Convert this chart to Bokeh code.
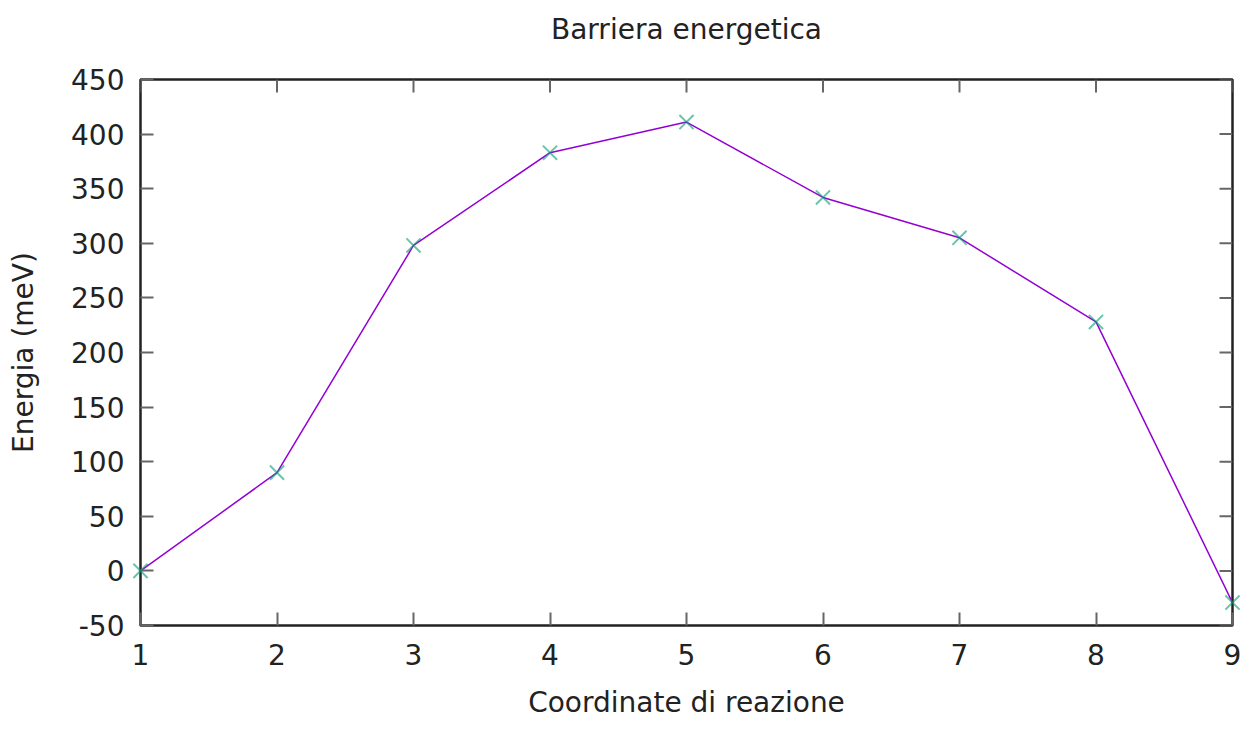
import math
from bokeh.plotting import figure
from bokeh.models import FixedTicker, Range1d, LinearAxis
from bokeh.embed import file_html
from bokeh.resources import INLINE

coord = [1, 2, 3, 4, 5, 6, 7, 8, 9]
energia = [0, 90, 298, 383, 411, 342, 305, 228, -29]
y_ticks = [-50, 0, 50, 100, 150, 200, 250, 300, 350, 400, 450]
x_ticks = [1, 2, 3, 4, 5, 6, 7, 8, 9]
title_text = "Barriera energetica"

FONT = "DejaVu Sans"
FS = "28px"
TXT = "#222222"
TICK = "#666666"

p = figure(width=1244, height=721, output_backend="svg", toolbar_location=None,
           x_range=Range1d(1, 9), y_range=Range1d(-50, 450),
           min_border_left=140, min_border_right=12, min_border_top=79, min_border_bottom=94)
p.title = None

p.xgrid.visible = False
p.ygrid.visible = False
p.outline_line_color = "#222222"
p.outline_line_width = 2.5
p.outline_line_alpha = 1.0

for ax in (p.xaxis[0], p.yaxis[0]):
    ax.axis_line_color = None
    ax.major_tick_in = 13
    ax.major_tick_out = 0
    ax.minor_tick_line_color = None
    ax.major_tick_line_color = TICK
    ax.major_tick_line_width = 2
    ax.major_label_text_font = FONT
    ax.major_label_text_font_size = FS
    ax.major_label_text_color = TXT
    ax.axis_label_text_font = FONT
    ax.axis_label_text_font_size = FS
    ax.axis_label_text_font_style = "normal"
    ax.axis_label_text_color = TXT

p.xaxis.ticker = FixedTicker(ticks=x_ticks)
p.yaxis.ticker = FixedTicker(ticks=y_ticks)
p.yaxis.major_label_overrides = {t: str(t) for t in y_ticks}
p.xaxis.axis_label = "Coordinate di reazione"
p.yaxis.axis_label = "Energia (meV)"
p.xaxis.major_label_standoff = 18
p.yaxis.major_label_standoff = 16
p.xaxis.axis_label_standoff = 18
p.yaxis.axis_label_standoff = 28

# title drawn as the label of a tick-less axis above the frame
top = LinearAxis(ticker=FixedTicker(ticks=[]), axis_label=title_text)
top.axis_line_color = None
top.major_tick_line_color = None
top.minor_tick_line_color = None
top.major_label_standoff = 0
top.axis_label_standoff = 34
top.axis_label_text_font = FONT
top.axis_label_text_font_size = FS
top.axis_label_text_font_style = "normal"
top.axis_label_text_color = TXT
p.add_layout(top, "above")

# mirrored ticks on the top and right borders (gnuplot style)
p.ray(x=[9] * len(y_ticks), y=y_ticks, length=13, length_units="screen",
      angle=math.pi, line_color=TICK, line_width=2)
p.ray(x=x_ticks, y=[450] * len(x_ticks), length=13, length_units="screen",
      angle=-math.pi / 2, line_color=TICK, line_width=2)

p.line(coord, energia, line_color="#9400d3", line_width=1.5)
r = p.scatter(coord, energia, marker="x", size=20, line_color="#009e73",
              line_alpha=0.6, line_width=2)
r.level = "overlay"

open("out.html", "w").write(file_html(p, INLINE))
